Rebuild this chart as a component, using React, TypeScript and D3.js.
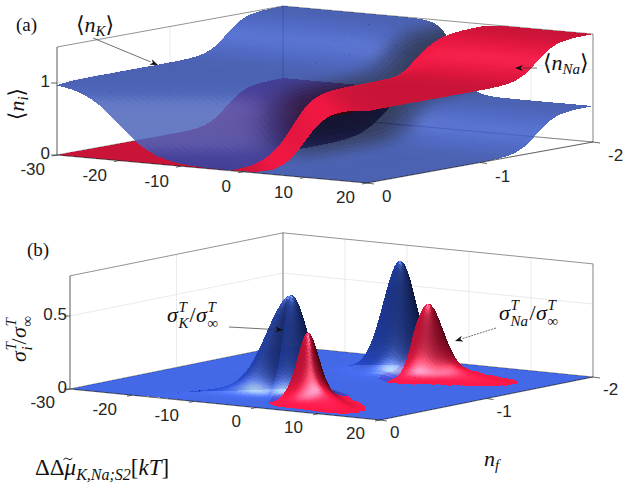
"use client";

import * as d3 from "d3";
import { useEffect, useRef } from "react";

// axes
const xTicks = [-30, -20, -10, 0, 10, 20];
const nfTicks = [0, -1, -2];
const occTicks = [0, 1];
const condTicks = [0, 0.5];
const xLimits = [-30, 20];
const nfLimits = [0, -2];
const occMax = 1.5;
const condMax = 0.775;

const kFrontStep = -20; // <n_K> falls 1 -> 0 along n_f = 0
const naFrontStep = 10; // <n_Na> rises 0 -> 1 along n_f = 0
const triplePoint = [-2, -0.5]; // both single-ion lines meet here
const secondIonStep = -1.5; // second ion enters
const chargingEnergy = 6; // in kT, sets how sharp the n_f steps are

// (b) conductance ridges: path in (x, n_f), peak, flank and tail
const kRidges = [
  [[-30, 0.29], [-3, -0.5], [20, -0.5]],
  [[-30, -1.5], [20, -1.5]],
];
const kPeakX = [-2.9, -2.5];
const kPeakHeight = [0.685, 0.775];
const kPeakWidth = [2.5, 2.4];
const kTailHeight = [0.08, 0.1];
const kTailEnd = [-20, -14];

const naRidges = [
  [[-30, -0.5], [-3, -0.5], [16, -0.1], [20, 0]],
  [[-30, -1.5], [20, -1.5]],
];
const naPeakX = [1.4, 2.0];
const naPeakHeight = [0.46, 0.5];
const naPeakWidth = [1.9, 2.0];
const naTailHeight = [0.12, 0.11];
const naTailEnd = [15, 17];
const ridgeWidth = 0.1;

type Panel = {
  origin: number[];
  xVec: number[];
  nfVec: number[];
  zPx: number;
  zMax: number;
};

const panelA: Panel = { origin: [57, 155], xVec: [310, 28], nfVec: [226, -41], zPx: 72, zMax: occMax };
const panelB: Panel = { origin: [70, 389], xVec: [310, 31], nfVec: [213, -43], zPx: 146, zMax: condMax };

const xScale = d3.scaleLinear().domain(xLimits).range([0, 1]);
const nfScale = d3.scaleLinear().domain(nfLimits).range([0, 1]);

const uniq = (vals: number[], desc = false) =>
  Array.from(new Set(vals.map((v) => Math.round(v * 1000) / 1000))).sort((a, b) => (desc ? b - a : a - b));

const xsGridA = d3.range(0, 126).map((i) => xLimits[0] + i * 0.4);
const nfGridA = d3.range(0, 81).map((j) => -j * 0.025);
// finer sampling where the conductance peaks stand
const xsGridB = uniq([...d3.range(-30, -15, 0.5), ...d3.range(-15, 12, 0.25), ...d3.range(12, 20.001, 0.5)]);
const nfGridB = uniq(
  [
    ...d3.range(0, 2.0001, 0.025),
    ...d3.range(0.03, 0.75, 0.008),
    ...d3.range(1.3, 1.7, 0.008),
  ].map((v) => -v),
  true,
);

const blueA = [54, 86, 200];
const blueB = [44, 88, 238];
const redA = [244, 24, 68];
const redB = [272, 26, 76];

const tickFont = '"Liberation Sans", Arial, sans-serif';
const mathFont = '"Liberation Serif", "DejaVu Serif", serif';
const ink = "#262626";

function project(p: Panel, x: number, nf: number, z: number) {
  const u = xScale(x);
  const v = nfScale(nf);
  return [
    p.origin[0] + u * p.xVec[0] + v * p.nfVec[0],
    p.origin[1] + u * p.xVec[1] + v * p.nfVec[1] - z * p.zPx,
  ];
}

const cross = (a: number[], b: number[]) => [
  a[1] * b[2] - a[2] * b[1],
  a[2] * b[0] - a[0] * b[2],
  a[0] * b[1] - a[1] * b[0],
];
const dot = (a: number[], b: number[]) => a[0] * b[0] + a[1] * b[1] + a[2] * b[2];
const norm = (a: number[]) => {
  const l = Math.hypot(a[0], a[1], a[2]) || 1;
  return [a[0] / l, a[1] / l, a[2] / l];
};

// orthographic camera recovered from the drawn box edges
function cameraFrame(p: Panel, lightCam: number[]) {
  const cu = [p.xVec[0], -p.xVec[1]];
  const cv = [p.nfVec[0], -p.nfVec[1]];
  const cw = p.zPx * p.zMax;
  const b2 = -(cv[0] * cv[1]) / (cu[0] * cu[1]);
  const b = Math.sqrt(b2);
  const c = cw / Math.sqrt(cu[0] ** 2 + cv[0] ** 2 / b2 - cu[1] ** 2 - cv[1] ** 2 / b2);
  const k = Math.hypot(cu[0], cv[0] / b);
  const r1 = [cu[0] / k, cv[0] / b / k, 0];
  const r2 = [cu[1] / k, cv[1] / b / k, cw / c / k];
  const t = cross(r1, r2);
  const phys = (x: number, nf: number, z: number) => [xScale(x), b * nfScale(nf), (c * z) / p.zMax];
  const light = norm([0, 1, 2].map((i) => lightCam[0] * r1[i] + lightCam[1] * r2[i] + lightCam[2] * t[i]));
  const half = norm([0, 1, 2].map((i) => light[i] + t[i]));
  return { t, phys, light, half };
}

function occupancy(x: number, nf: number) {
  const ec = chargingEnergy;
  const [xt] = triplePoint;
  const aK = ec / (xt - kFrontStep);
  const aN = ec / (naFrontStep - xt);
  const muK = aK * (x - kFrontStep) - ec;
  const muN = -aN * (x - naFrontStep) - ec;
  const c2 = Math.LN2 - ec * (3 + 2 * secondIonStep);
  const e1 = 2 * ec * (nf - triplePoint[1]);
  const e2 = ec * (4 + 4 * nf) + c2;
  const states = [
    [0, 0, 0],
    [e1 + muK, 1, 0],
    [e1 + muN, 0, 1],
    [e2 + muK, 2, 0],
    [e2 + muK, 1, 1],
    [e2 + muN, 1, 1],
    [e2 + muN, 0, 2],
  ];
  const emin = d3.min(states, (s) => s[0]) ?? 0;
  let zsum = 0;
  let nK = 0;
  let nN = 0;
  for (const [e, k, n] of states) {
    const w = Math.exp(-(e - emin));
    zsum += w;
    nK += w * k;
    nN += w * n;
  }
  return [nK / zsum, nN / zsum];
}

function ridgeValue(
  x: number,
  nf: number,
  path: number[][],
  x0: number,
  h: number,
  w: number,
  tailH: number,
  tailEnd: number,
) {
  const line = d3
    .scaleLinear()
    .domain(path.map((q) => q[0]))
    .range(path.map((q) => q[1]));
  const g = Math.exp(-((x - x0) ** 2) / (2 * w * w));
  const s = (x - x0) / (tailEnd - x0);
  let tail = g;
  if (s > 0) tail = s >= 1 ? 0 : 1 - s * s * (3 - 2 * s);
  const across = 1 / Math.cosh((nf - line(x)) / ridgeWidth) ** 2;
  return ((h - tailH) * g + tailH * tail) * across;
}

type Surface = { values: number[][]; color: number[]; opacity: number; floor?: number; bias: number };

function drawSurfaces(
  g: d3.Selection<SVGGElement, unknown, null, undefined>,
  p: Panel,
  xs: number[],
  nfs: number[],
  lightCam: number[],
  surfaces: Surface[],
) {
  const cam = cameraFrame(p, lightCam);
  const quads: { depth: number; fill: string; op: number; d: string }[] = [];
  surfaces.forEach((s) => {
    for (let i = 0; i < xs.length - 1; i++) {
      for (let j = 0; j < nfs.length - 1; j++) {
        const cx = [xs[i], xs[i + 1], xs[i + 1], xs[i]];
        const cn = [nfs[j], nfs[j], nfs[j + 1], nfs[j + 1]];
        const cz = [s.values[i][j], s.values[i + 1][j], s.values[i + 1][j + 1], s.values[i][j + 1]];
        if (s.floor !== undefined && Math.max(...cz) < s.floor) continue;
        const pts = cz.map((z, k) => cam.phys(cx[k], cn[k], Math.min(z, p.zMax)));
        const d1 = [0, 1, 2].map((k) => pts[2][k] - pts[0][k]);
        const d2 = [0, 1, 2].map((k) => pts[3][k] - pts[1][k]);
        let n = norm(cross(d1, d2));
        if (dot(n, cam.t) < 0) n = n.map((a) => -a);
        const depth = d3.mean(pts, (q) => dot(q, cam.t))! + s.bias;
        const diff = Math.max(0, dot(n, cam.light));
        const spec = 0.55 * Math.pow(Math.max(0, dot(n, cam.half)), 20);
        const lit = 0.22 + 0.78 * diff;
        const rgb = s.color.map((c) => Math.round(Math.min(255, c * lit + 255 * spec)));
        const scr = cz.map((z, k) => project(p, cx[k], cn[k], Math.min(z, p.zMax)));
        const d = "M" + scr.map((q) => q[0].toFixed(1) + "," + q[1].toFixed(1)).join("L") + "Z";
        quads.push({ depth, fill: `rgb(${rgb.join(",")})`, op: s.opacity, d });
      }
    }
  });
  quads.sort((a, b) => a.depth - b.depth);
  const runs: { fill: string; op: number; d: string }[] = [];
  for (const q of quads) {
    const last = runs[runs.length - 1];
    if (last && last.fill === q.fill && last.op === q.op) last.d += q.d;
    else runs.push({ fill: q.fill, op: q.op, d: q.d });
  }
  g.append("g")
    .selectAll("path")
    .data(runs)
    .join("path")
    .attr("d", (r) => r.d)
    .attr("fill", (r) => r.fill)
    .attr("fill-opacity", (r) => r.op)
    .attr("shape-rendering", "crispEdges");
}

function Backdrop({ p, zTicks }: { p: Panel; zTicks: number[] }) {
  const [x0, x1] = xLimits;
  const [n0, n1] = nfLimits;
  const zm = p.zMax;
  const seg = (a: number[], b: number[], key: string, stroke: string, w: number) => {
    const pa = project(p, a[0], a[1], a[2]);
    const pb = project(p, b[0], b[1], b[2]);
    return <line key={key} x1={pa[0]} y1={pa[1]} x2={pb[0]} y2={pb[1]} stroke={stroke} strokeWidth={w} />;
  };
  const grid = "#dcdcdc";
  const lines = [];
  xTicks.forEach((x) => {
    lines.push(seg([x, n0, 0], [x, n1, 0], `fx${x}`, grid, 0.6));
    lines.push(seg([x, n1, 0], [x, n1, zm], `bx${x}`, grid, 0.6));
  });
  nfTicks.forEach((n) => {
    lines.push(seg([x0, n, 0], [x1, n, 0], `fn${n}`, grid, 0.6));
    lines.push(seg([x0, n, 0], [x0, n, zm], `ln${n}`, grid, 0.6));
  });
  zTicks.forEach((z) => {
    lines.push(seg([x0, n0, z], [x0, n1, z], `lz${z}`, grid, 0.6));
    lines.push(seg([x0, n1, z], [x1, n1, z], `bz${z}`, grid, 0.6));
  });
  const box = "#4a4a4a";
  lines.push(seg([x0, n1, 0], [x1, n1, 0], "e1", box, 0.6));
  lines.push(seg([x0, n0, 0], [x0, n1, 0], "e2", box, 0.6));
  lines.push(seg([x0, n1, 0], [x0, n1, zm], "e3", "#9a9a9a", 1.2));
  lines.push(seg([x0, n0, zm], [x0, n1, zm], "e4", box, 0.6));
  lines.push(seg([x0, n1, zm], [x1, n1, zm], "e5", box, 0.6));
  lines.push(seg([x1, n1, 0], [x1, n1, zm], "e6", box, 0.6));
  return <g>{lines}</g>;
}

function Axes({
  p,
  zTicks,
  xOff,
  nfOff,
  zOff,
}: {
  p: Panel;
  zTicks: number[];
  xOff: number[];
  nfOff: number[];
  zOff: number;
}) {
  const [x0, x1] = xLimits;
  const [n0, n1] = nfLimits;
  const a = project(p, x0, n0, 0);
  const b = project(p, x1, n0, 0);
  const c = project(p, x1, n1, 0);
  const top = project(p, x0, n0, p.zMax);
  return (
    <g fontFamily={tickFont} fontSize={17} fill={ink}>
      <path d={`M${top[0]},${top[1]}L${a[0]},${a[1]}L${b[0]},${b[1]}L${c[0]},${c[1]}`} fill="none" stroke={ink} strokeWidth={0.7} />
      {xTicks.map((x) => {
        const q = project(p, x, n0, 0);
        return (
          <g key={`x${x}`}>
            <line x1={q[0]} y1={q[1]} x2={q[0] - 5} y2={q[1] + 1} stroke={ink} strokeWidth={0.7} />
            <text x={q[0] + xOff[0]} y={q[1] + xOff[1]} textAnchor="end" dominantBaseline="middle">
              {x}
            </text>
          </g>
        );
      })}
      {nfTicks.map((n) => {
        const q = project(p, x1, n, 0);
        return (
          <g key={`n${n}`}>
            <line x1={q[0]} y1={q[1]} x2={q[0] + 7} y2={q[1] + 1} stroke={ink} strokeWidth={0.7} />
            <text x={q[0] + nfOff[0]} y={q[1] + nfOff[1]} textAnchor="start" dominantBaseline="middle">
              {n}
            </text>
          </g>
        );
      })}
      {zTicks.map((z) => {
        const q = project(p, x0, n0, z);
        return (
          <g key={`z${z}`}>
            <line x1={q[0]} y1={q[1]} x2={q[0] - 6} y2={q[1]} stroke={ink} strokeWidth={0.7} />
            <text x={q[0] + zOff} y={q[1]} textAnchor="end" dominantBaseline="middle">
              {z}
            </text>
          </g>
        );
      })}
    </g>
  );
}

function Arrow({ from, to, dashed }: { from: number[]; to: number[]; dashed?: boolean }) {
  const ang = Math.atan2(to[1] - from[1], to[0] - from[0]);
  const len = 8;
  const wing = 3;
  const bx = to[0] - len * Math.cos(ang);
  const by = to[1] - len * Math.sin(ang);
  const px = -Math.sin(ang) * wing;
  const py = Math.cos(ang) * wing;
  return (
    <g>
      <line x1={from[0]} y1={from[1]} x2={bx} y2={by} stroke="#333" strokeWidth={0.7} strokeDasharray={dashed ? "2,1" : undefined} />
      <path d={`M${to[0]},${to[1]}L${bx + px},${by + py}L${bx + len * 0.3 * Math.cos(ang)},${by + len * 0.3 * Math.sin(ang)}L${bx - px},${by - py}Z`} fill="#111" />
    </g>
  );
}

// sigma^T_sub / sigma^T_inf, scripts stacked as separate texts
function SigmaRatio({ x, y, sub, subW }: { x: number; y: number; sub: string; subW: number }) {
  const big = 22;
  const small = 15;
  const sw = 11.5;
  const slash = 6.5;
  const x2 = x + sw + subW + slash;
  return (
    <g fontFamily={mathFont} fill="#111">
      <text x={x} y={y} fontSize={big} fontStyle="italic">σ</text>
      <text x={x + sw} y={y - 10} fontSize={small} fontStyle="italic">T</text>
      <text x={x + sw} y={y + 6} fontSize={small} fontStyle="italic">{sub}</text>
      <text x={x + sw + subW} y={y} fontSize={big}>/</text>
      <text x={x2} y={y} fontSize={big} fontStyle="italic">σ</text>
      <text x={x2 + sw} y={y - 10} fontSize={small} fontStyle="italic">T</text>
      <text x={x2 + sw} y={y + 6} fontSize={small}>∞</text>
    </g>
  );
}

export default function App() {
  const surfRefA = useRef<SVGGElement | null>(null);
  const surfRefB = useRef<SVGGElement | null>(null);

  useEffect(() => {
    if (!surfRefA.current || !surfRefB.current) return;
    const gA = d3.select(surfRefA.current);
    const gB = d3.select(surfRefB.current);
    gA.selectAll("*").remove();
    gB.selectAll("*").remove();

    const occ = xsGridA.map((x) => nfGridA.map((nf) => occupancy(x, nf)));
    const nK = occ.map((row) => row.map((o) => o[0]));
    const nNa = occ.map((row) => row.map((o) => o[1]));
    drawSurfaces(gA, panelA, xsGridA, nfGridA, [-0.55, 0.7, 0.35], [
      { values: nNa, color: redA, opacity: 1, bias: 0 },
      { values: nK, color: blueA, opacity: 0.85, bias: 1e-5 },
    ]);

    const sK = xsGridB.map((x) =>
      nfGridB.map((nf) =>
        d3.sum(kRidges, (path, r) =>
          ridgeValue(x, nf, path, kPeakX[r], kPeakHeight[r], kPeakWidth[r], kTailHeight[r], kTailEnd[r]),
        ),
      ),
    );
    const sNa = xsGridB.map((x) =>
      nfGridB.map((nf) =>
        d3.sum(naRidges, (path, r) =>
          ridgeValue(x, nf, path, naPeakX[r], naPeakHeight[r], naPeakWidth[r], naTailHeight[r], naTailEnd[r]),
        ),
      ),
    );
    drawSurfaces(gB, panelB, xsGridB, nfGridB, [-0.3, 0.92, 0.25], [
      { values: sNa, color: redB, opacity: 1, floor: 0.004, bias: 0 },
      { values: sK, color: blueB, opacity: 0.88, bias: 1e-5 },
    ]);
  }, []);

  const big = 22;
  const sub = 15;
  return (
    <div style={{ position: "absolute", left: 0, top: 0 }}>
      <svg width={623} height={501} viewBox="0 0 623 501" style={{ display: "block", background: "#fff" }}>
        <Backdrop p={panelA} zTicks={occTicks} />
        <Backdrop p={panelB} zTicks={condTicks} />
        <g ref={surfRefA} />
        <g ref={surfRefB} />
        <Axes p={panelA} zTicks={occTicks} xOff={[-12, 16]} nfOff={[15, 15]} zOff={-7} />
        <Axes p={panelB} zTicks={condTicks} xOff={[-15, 15]} nfOff={[10, 14]} zOff={-3} />

        <g fontFamily={mathFont} fill="#111">
          <text x={16} y={31} fontSize={19}>(a)</text>
          <text x={27} y={256} fontSize={19}>(b)</text>

          <text x={76} y={32} fontSize={big}>
            ⟨<tspan fontStyle="italic">n</tspan>
            <tspan fontStyle="italic" fontSize={sub} dy={4}>K</tspan>
            <tspan dy={-4}>⟩</tspan>
          </text>
          <Arrow from={[93, 38]} to={[158, 65]} />

          <text x={543} y={70} fontSize={big}>
            ⟨<tspan fontStyle="italic">n</tspan>
            <tspan fontStyle="italic" fontSize={sub} dy={4}>Na</tspan>
            <tspan dy={-4}>⟩</tspan>
          </text>
          <Arrow from={[537, 68]} to={[515, 68]} />

          <text transform="translate(24,104) rotate(-90)" fontSize={big} textAnchor="middle">
            ⟨<tspan fontStyle="italic">n</tspan>
            <tspan fontStyle="italic" fontSize={sub} dy={4}>i</tspan>
            <tspan dy={-4}>⟩</tspan>
          </text>

          <g transform="translate(26,362) rotate(-90)">
            <SigmaRatio x={0} y={0} sub="i" subW={6} />
          </g>

          <SigmaRatio x={167} y={322} sub="K" subW={11} />
          <Arrow from={[229, 327]} to={[283, 330]} />

          <SigmaRatio x={499} y={320} sub="Na" subW={19} />
          <Arrow from={[496, 328]} to={[455, 341]} dashed />

          <text x={35} y={475} fontSize={23}>
            ΔΔ<tspan fontStyle="italic">μ</tspan>
            <tspan fontStyle="italic" fontSize={16} dy={5}>K,Na;S2</tspan>
            <tspan dy={-5}>[</tspan>
            <tspan fontStyle="italic">kT</tspan>]
          </text>
          <path d="M63.5,459.5q2.2,-2.6 4.4,-0.6t4.4,-0.6" fill="none" stroke="#111" strokeWidth={1} />
          <text x={484} y={466} fontSize={big}>
            <tspan fontStyle="italic">n</tspan>
            <tspan fontStyle="italic" fontSize={sub} dy={4}>f</tspan>
          </text>
        </g>
      </svg>
    </div>
  );
}
